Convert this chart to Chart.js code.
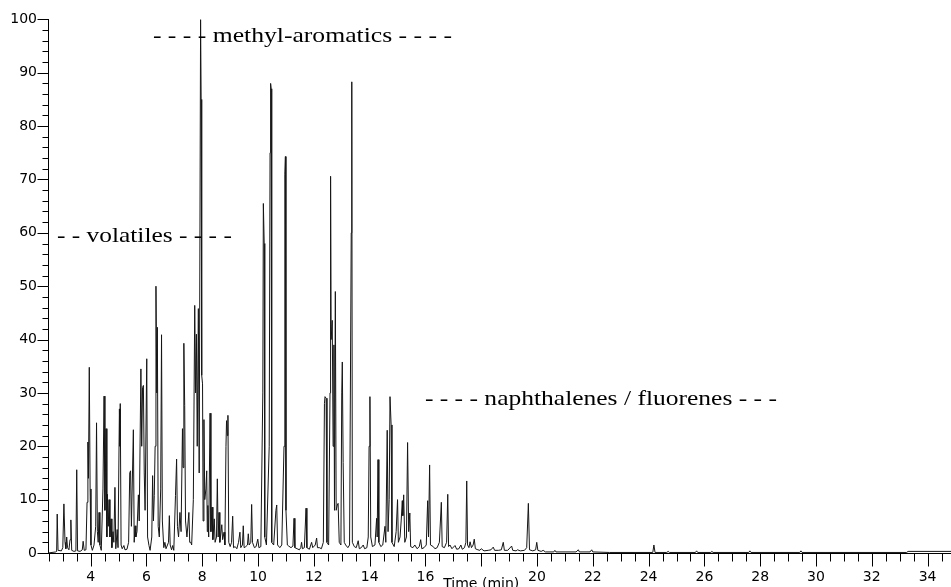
<!DOCTYPE html>
<html>
<head>
<meta charset="utf-8">
<script src="https://cdn.jsdelivr.net/npm/chart.js@4.4.1/dist/chart.umd.min.js"></script>
<style>
  body { margin: 0; background: #fff; }
  #wrap { position: relative; width: 951px; height: 587px; }
</style>
</head>
<body>
<div id="wrap"><canvas id="chrom"></canvas></div>
<script>
// retention time (min) / relative intensity (%)
const timeVolatiles = [
    2.47, 2.75, 2.78, 2.80, 2.83, 2.95, 3.00, 3.04, 3.08, 3.11,
    3.14, 3.17, 3.22, 3.26, 3.29, 3.32, 3.40, 3.47, 3.50, 3.53,
    3.62, 3.70, 3.73, 3.77, 3.83, 3.87, 3.90, 3.92, 3.95, 3.98,
    4.01, 4.06, 4.12, 4.18, 4.21, 4.24, 4.27, 4.30, 4.33, 4.38,
    4.44, 4.48, 4.51, 4.55, 4.58, 4.60, 4.63, 4.66, 4.69, 4.73,
    4.76, 4.80, 4.83, 4.87, 4.90, 4.95, 4.98, 5.03, 5.05, 5.06,
    5.09, 5.13, 5.19, 5.23, 5.30, 5.36, 5.40, 5.43, 5.46, 5.53,
    5.56, 5.59, 5.62, 5.66, 5.71, 5.74, 5.80, 5.83, 5.86, 5.89,
    5.92, 5.95, 6.01, 6.04, 6.09, 6.13, 6.19, 6.22, 6.25, 6.28,
    6.31, 6.34, 6.37, 6.39, 6.42, 6.46, 6.51, 6.54, 6.57, 6.62,
    6.66, 6.70, 6.79, 6.82, 6.85, 6.90, 6.94, 6.98, 7.04, 7.08,
    7.11, 7.15, 7.20, 7.24, 7.29, 7.31, 7.34, 7.37, 7.40, 7.45,
    7.52, 7.55, 7.59, 7.62
];
const sigVolatiles = [
    0, 0.2, 0.3, 7.3, 0.5, 0.4, 1.0, 9.2, 2.0, 0.8,
    3.0, 1.0, 0.6, 2.5, 6.2, 0.5, 0.3, 0.4, 15.6, 0.4,
    0.3, 0.6, 2.2, 0.5, 0.6, 9.5, 20.8, 14, 34.8, 12,
    1.5, 0.5, 1.5, 5, 24.4, 4, 2, 7.6, 1.5, 0.5,
    12, 29.4, 8, 23.3, 3, 11, 5, 10, 3, 6.4,
    1, 4, 2, 12.3, 0.8, 4.4, 1, 27, 20, 28,
    1.5, 0.8, 1.4, 0.6, 0.7, 2, 15, 15.4, 5, 23.1,
    2, 5.1, 3, 4, 10.9, 6, 34.5, 20, 31, 31.4,
    15, 8, 36.4, 3, 1.4, 0.5, 3, 14.5, 6, 10.8,
    20, 50, 30, 42.3, 5, 3, 12, 40.9, 6, 1,
    2, 0.8, 2, 7, 1.5, 0.6, 1.4, 0.5, 10.8, 17.6,
    5, 3, 7.6, 4, 23.3, 16, 39.3, 27.6, 6, 3,
    7.6, 2, 2, 1.5
];

const timeMethyl = [
    7.68, 7.73, 7.76, 7.79, 7.82, 7.86, 7.89, 7.94, 7.96, 7.98,
    8.01, 8.03, 8.06, 8.09, 8.13, 8.16, 8.18, 8.20, 8.23, 8.28,
    8.31, 8.35, 8.38, 8.43, 8.46, 8.51, 8.54, 8.57, 8.60, 8.63,
    8.70, 8.73, 8.78, 8.81, 8.85, 8.87, 8.90, 8.92, 8.95, 9.00,
    9.05, 9.09, 9.12, 9.18, 9.24, 9.30, 9.35, 9.38, 9.44, 9.47,
    9.50, 9.56, 9.62, 9.65, 9.68, 9.74, 9.77, 9.80, 9.87, 9.93,
    9.99, 10.03, 10.10, 10.17, 10.19, 10.22, 10.24, 10.30, 10.40, 10.43,
    10.45, 10.47, 10.49, 10.56, 10.64, 10.67, 10.70, 10.78, 10.85, 10.93,
    10.96, 10.98, 11.00, 11.05, 11.10, 11.18, 11.25, 11.29, 11.32, 11.40,
    11.48, 11.53, 11.56, 11.59, 11.66, 11.72, 11.75, 11.84, 11.92, 11.96,
    12.05, 12.10, 12.13, 12.20, 12.27, 12.34, 12.38, 12.40, 12.44, 12.47,
    12.53, 12.58, 12.60, 12.62, 12.66, 12.69, 12.72, 12.74, 12.77, 12.80,
    12.84, 12.87, 12.91, 12.97, 13.00, 13.02, 13.05, 13.09, 13.14, 13.22,
    13.28, 13.34, 13.36, 13.38, 13.45, 13.52, 13.59, 13.63
];
const sigMethyl = [
    10, 46.4, 30, 41, 20, 45.8, 15, 100, 85, 33.3,
    31.7, 6, 25, 10, 12, 15.4, 4, 8.9, 3, 26.2,
    4, 8.6, 2.5, 6.4, 2, 3, 13.9, 3, 7.6, 2,
    5.3, 2.5, 3.9, 1.5, 20, 24.8, 22, 25.8, 2, 1.2,
    2, 6.9, 1, 1.2, 0.8, 2, 3.9, 1, 1.5, 5.1,
    1, 1.2, 1.5, 3.6, 1.5, 2, 9.1, 2, 1, 1.2,
    2.6, 1, 1.2, 30, 65.5, 58, 3, 1.5, 20, 75,
    88, 87, 2, 1.5, 8, 9, 1.5, 1, 1.5, 20,
    71, 74.3, 8, 1.5, 1.3, 1, 1.3, 6.5, 1, 0.8,
    0.6, 1, 2, 0.8, 1, 8.4, 1, 0.7, 2, 1,
    1.5, 2.8, 1, 1, 0.8, 2, 28, 29.3, 29, 2,
    1.5, 30, 70.6, 40, 43.6, 20, 39, 8, 49, 8,
    9, 9.3, 2, 1.5, 30, 35.8, 17, 2, 1.5, 1,
    1.5, 60, 88.3, 2, 1.2, 1, 2.3, 0.8
];

const timeNaph = [
    13.70, 13.77, 13.82, 13.90, 13.95, 13.98, 14.01, 14.04, 14.10, 14.19,
    14.25, 14.27, 14.30, 14.33, 14.40, 14.47, 14.55, 14.58, 14.63, 14.66,
    14.70, 14.73, 14.77, 14.80, 14.88, 14.95, 15.00, 15.03, 15.09, 15.13,
    15.17, 15.19, 15.22, 15.26, 15.32, 15.36, 15.40, 15.44, 15.47, 15.55,
    15.62, 15.70, 15.78, 15.83, 15.87, 15.95, 16.03, 16.08, 16.11, 16.15,
    16.18, 16.28, 16.34, 16.42, 16.50, 16.57, 16.60, 16.68, 16.76, 16.80,
    16.83, 16.88, 16.95, 17.06, 17.12, 17.20, 17.27, 17.32, 17.40, 17.45,
    17.48, 17.51, 17.56, 17.60, 17.65, 17.71, 17.75, 17.79, 17.88, 17.95,
    18.00, 18.10, 18.25, 18.35, 18.43, 18.48, 18.62, 18.72, 18.79, 18.83,
    18.95, 19.09, 19.13, 19.25, 19.30, 19.40, 19.55, 19.63, 19.69, 19.73,
    19.85, 19.95, 19.99, 20.03, 20.15, 20.22, 20.30, 20.60, 20.64, 20.68,
    21.40, 21.48, 21.52, 21.90, 21.96, 22.00
];
const sigNaph = [
    1, 1.5, 0.8, 1, 3, 20, 29.3, 3, 1.2, 1.5,
    6.5, 3, 17.5, 2, 1.2, 1.5, 5, 2, 23, 4,
    10, 29.3, 24, 2, 1.2, 4, 10, 2, 3, 6,
    9.8, 7, 10.9, 2, 3, 20.7, 4, 7.5, 1.2, 1,
    1.5, 0.8, 1.2, 2.5, 0.8, 1, 1.5, 9.8, 3, 16.5,
    1.5, 1.2, 0.8, 1, 2, 9.5, 1.2, 1, 2, 11,
    1.2, 1.5, 0.8, 1.4, 0.7, 0.8, 1.5, 0.7, 1, 2,
    13.5, 1.5, 1, 2.1, 1, 1.5, 2.6, 0.8, 0.6, 0.5,
    0.8, 0.4, 0.5, 0.6, 1.1, 0.5, 0.5, 0.6, 2, 0.5,
    0.5, 1.3, 0.5, 0.4, 0.6, 0.4, 0.5, 1, 9.3, 0.6,
    0.4, 0.6, 2, 0.5, 0.3, 0.5, 0.2, 0.2, 0.5, 0.2,
    0.2, 0.6, 0.2, 0.2, 0.6, 0.2
];

const timeTail = [
    22.60, 24.15, 24.19, 24.23, 24.65, 24.70, 24.75, 25.68, 25.72, 25.76,
    26.23, 26.27, 26.31, 27.59, 27.63, 27.67, 29.42, 29.46, 29.50, 33.25,
    33.30, 34.84
];
const sigTail = [
    0.1, 0.1, 1.5, 0.1, 0.1, 0.3, 0.1, 0.1, 0.4, 0.1,
    0.1, 0.3, 0.1, 0.1, 0.4, 0.1, 0.1, 0.4, 0.1, 0.1,
    0.3, 0.3
];

const times = [...timeVolatiles, ...timeMethyl, ...timeNaph, ...timeTail];
const signal = [...sigVolatiles, ...sigMethyl, ...sigNaph, ...sigTail];

// region labels: text, start / end time, baseline height
const regionLabels = [
    { text: '- - volatiles - - - -', from: 2.79, to: 9.06, at: 58.2 },
    { text: '- - - - methyl-aromatics - - - -', from: 6.23, to: 16.95, at: 95.7 },
    { text: '- - - - naphthalenes / fluorenes - - -', from: 15.98, to: 28.6, at: 27.7 }
];

const tickFont = { family: '"DejaVu Sans"', size: 14 };

const decor = {
    id: 'decor',
    afterDraw(chart) {
        const { ctx, scales: { x, y } } = chart;
        const x0 = Math.round(x.left) + 0.5;
        const yAxis = Math.round(y.getPixelForValue(0)) + 0.5;
        ctx.save();
        ctx.strokeStyle = '#000';
        ctx.lineWidth = 1;
        ctx.beginPath();
        // x tick marks, long ones on even minutes
        x.ticks.forEach(tk => {
            const px = Math.round(x.getPixelForValue(tk.value)) + 0.5;
            const len = tk.value % 2 === 0 ? 13 : 8;
            ctx.moveTo(px, yAxis);
            ctx.lineTo(px, yAxis + len);
        });
        // y tick marks, long ones every 10
        y.ticks.forEach(tk => {
            const py = Math.round(y.getPixelForValue(tk.value)) + 0.5;
            const len = tk.value % 10 === 0 ? 11 : 6;
            ctx.moveTo(x0, py);
            ctx.lineTo(x0 - len, py);
        });
        ctx.stroke();

        // axis title sitting in place of the 18 label
        ctx.fillStyle = '#000';
        ctx.font = '14px "DejaVu Sans"';
        ctx.textAlign = 'center';
        ctx.textBaseline = 'alphabetic';
        ctx.fillText('Time (min)', x.getPixelForValue(18), 588);

        // region labels, stretched to their span
        ctx.font = '22px "Liberation Serif"';
        ctx.textAlign = 'left';
        regionLabels.forEach(lb => {
            const left = x.getPixelForValue(lb.from);
            const span = x.getPixelForValue(lb.to) - left;
            const w = ctx.measureText(lb.text).width;
            ctx.save();
            ctx.translate(left, y.getPixelForValue(lb.at));
            ctx.scale(span / w, 1);
            ctx.fillText(lb.text, 0, 0);
            ctx.restore();
        });
        ctx.restore();
    }
};

new Chart(document.getElementById('chrom'), {
    type: 'line',
    data: {
        datasets: [{
            data: times.map((t, i) => ({ x: t, y: signal[i] })),
            borderColor: '#161616',
            borderWidth: 1,
            pointRadius: 0,
            tension: 0,
            fill: false
        }]
    },
    options: {
        responsive: true,
        maintainAspectRatio: false,
        animation: false,
        layout: { padding: { top: 19, right: 0, bottom: 0, left: 0 } },
        plugins: {
            legend: { display: false },
            tooltip: { enabled: false }
        },
        scales: {
            x: {
                type: 'linear',
                min: 2.47,
                max: 34.84,
                border: { display: true, color: '#000', width: 1 },
                grid: { display: false, drawTicks: false },
                ticks: {
                    stepSize: 0.5,
                    includeBounds: false,
                    autoSkip: false,
                    maxRotation: 0,
                    padding: 16,
                    color: '#000',
                    font: tickFont,
                    callback: v => (v % 2 === 0 && v !== 18) ? String(v) : ''
                },
                afterFit: s => {
                    s.height = 34;
                    s.paddingLeft = 0;
                    s.paddingRight = 0;
                }
            },
            y: {
                min: 0,
                max: 100,
                border: { display: true, color: '#000', width: 1 },
                grid: { display: false, drawTicks: false },
                ticks: {
                    stepSize: 2,
                    autoSkip: false,
                    padding: 11,
                    color: '#000',
                    font: tickFont,
                    callback: v => v % 10 === 0 ? String(v) : ''
                },
                afterFit: s => { s.width = 48; }
            }
        }
    },
    plugins: [decor]
});
</script>
</body>
</html>
